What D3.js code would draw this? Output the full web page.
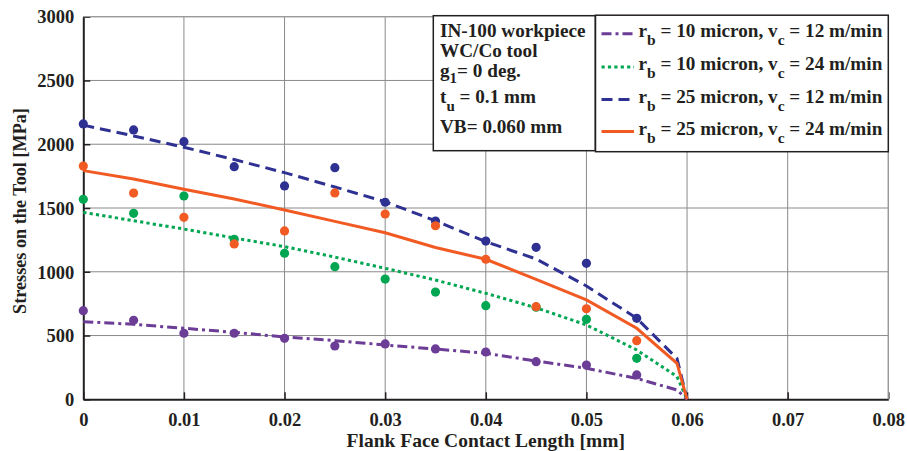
<!DOCTYPE html>
<html>
<head>
<meta charset="utf-8">
<script src="https://cdn.jsdelivr.net/npm/d3@7"></script>
<style>
  html, body { margin: 0; padding: 0; background: #fff; }
  svg { display: block; }
  text { font-family: "Liberation Serif", "Times New Roman", serif; font-weight: bold; fill: #231f20; }
</style>
</head>
<body>
<svg id="chart" width="907" height="451"></svg>
<script>
// Measured stresses at discrete contact positions (mm)
const pointX = [0, 0.005, 0.01, 0.015, 0.02, 0.025, 0.03, 0.035, 0.04, 0.045, 0.05, 0.055];
const pts_rb10_vc12 = [695, 620, 518, 518, 478, 418, 434, 395, 371, 295, 269, 191];
const pts_rb10_vc24 = [1568, 1458, 1594, 1255, 1145, 1040, 943, 841, 734, 722, 627, 321];
const pts_rb25_vc12 = [2159, 2112, 2020, 1824, 1673, 1816, 1545, 1398, 1241, 1192, 1066, 635];
const pts_rb25_vc24 = [1829, 1617, 1427, 1218, 1320, 1618, 1453, 1361, 1098, 726, 710, 460];

// Model curves along the flank face
const curveX = [0, 0.005, 0.01, 0.015, 0.02, 0.025, 0.03, 0.035, 0.04, 0.045, 0.05, 0.055, 0.059, 0.06];
const fit_rb10_vc12 = [609, 588, 557, 525, 489, 460, 426, 394, 361, 300, 243, 164, 73, 0];
const fit_rb10_vc24 = [1466, 1400, 1335, 1265, 1197, 1115, 1027, 935, 831, 718, 583, 387, 178, 0];
const fit_rb25_vc12 = [2150, 2065, 1976, 1880, 1777, 1665, 1549, 1400, 1236, 1100, 889, 635, 320, 0];
const fit_rb25_vc24 = [1793, 1727, 1647, 1571, 1484, 1395, 1306, 1190, 1098, 940, 779, 557, 282, 0];

// Axis ticks
const xTicks = [0, 0.01, 0.02, 0.03, 0.04, 0.05, 0.06, 0.07, 0.08];
const xTickLabels = ["0", "0.01", "0.02", "0.03", "0.04", "0.05", "0.06", "0.07", "0.08"];
const yTicks = [0, 500, 1000, 1500, 2000, 2500, 3000];

// Legend entries
const legendRb = ["10", "10", "25", "25"];
const legendVc = ["12", "24", "12", "24"];

const seriesColors = ["#6c3d97", "#00a651", "#2e3192", "#f15a22"];
const seriesDash = ["10,4,3,4", "3.2,3.2", "11,6", null];
const curves = [fit_rb10_vc12, fit_rb10_vc24, fit_rb25_vc12, fit_rb25_vc24];
const points = [pts_rb10_vc12, pts_rb10_vc24, pts_rb25_vc12, pts_rb25_vc24];

const svg = d3.select("#chart");
const plotLeft = 83.3, plotRight = 888.3, plotTop = 16.7, plotBottom = 399.3;
const boxFont = 19.2;

const x = d3.scaleLinear().domain([0, 0.08]).range([plotLeft, plotRight]);
const y = d3.scaleLinear().domain([0, 3000]).range([plotBottom, plotTop]);

// Grid
const grid = svg.append("g");
grid.selectAll("line.vx").data(xTicks.slice(1)).join("line")
  .attr("x1", d => x(d)).attr("x2", d => x(d))
  .attr("y1", plotTop).attr("y2", plotBottom)
  .attr("stroke", "#8a8a8a").attr("stroke-width", 1);
grid.selectAll("line.hy").data(yTicks.slice(1)).join("line")
  .attr("x1", plotLeft).attr("x2", plotRight)
  .attr("y1", d => y(d)).attr("y2", d => y(d))
  .attr("stroke", "#8a8a8a").attr("stroke-width", 1);

// Axes drawn with d3-axis, ticks pointing inward
const xAxis = svg.append("g").attr("transform", `translate(0,${plotBottom})`)
  .call(d3.axisBottom(x).tickValues(xTicks).tickSizeInner(-7).tickSizeOuter(0).tickPadding(9)
    .tickFormat((d, i) => xTickLabels[i]));
const yAxis = svg.append("g").attr("transform", `translate(${plotLeft},0)`)
  .call(d3.axisLeft(y).tickValues(yTicks).tickSizeInner(-7).tickSizeOuter(0).tickPadding(9)
    .tickFormat(d3.format("d")));
[xAxis, yAxis].forEach(a => {
  a.select(".domain").attr("stroke", "#231f20").attr("stroke-width", 2);
  a.selectAll(".tick line").attr("stroke", "#231f20").attr("stroke-width", 1.5);
  a.selectAll(".tick text")
    .attr("font-family", "Liberation Serif").attr("font-weight", "bold")
    .attr("font-size", 18.5).attr("fill", "#231f20");
});
xAxis.selectAll(".tick text").attr("dy", "0.95em");
yAxis.selectAll(".tick text").attr("dy", "0.34em");

// Top and right frame edges
svg.append("line").attr("x1", plotLeft).attr("x2", plotRight).attr("y1", plotTop).attr("y2", plotTop)
  .attr("stroke", "#9a9a9a").attr("stroke-width", 1.2);
svg.append("line").attr("x1", plotRight).attr("x2", plotRight).attr("y1", plotTop).attr("y2", plotBottom)
  .attr("stroke", "#9a9a9a").attr("stroke-width", 1.2);

// Model curves
const line = d3.line().x((d, i) => x(curveX[i])).y(d => y(d));
curves.forEach((c, k) => {
  svg.append("path").datum(c)
    .attr("d", line)
    .attr("fill", "none")
    .attr("stroke", seriesColors[k])
    .attr("stroke-width", 3)
    .attr("stroke-dasharray", seriesDash[k]);
});

// Measured points
points.forEach((p, k) => {
  svg.append("g").selectAll("circle").data(p).join("circle")
    .attr("cx", (d, i) => x(pointX[i]))
    .attr("cy", d => y(d))
    .attr("r", 4.6)
    .attr("fill", seriesColors[k]);
});

// Process conditions box
const info = svg.append("g");
info.append("rect").attr("x", 433.3).attr("y", 15.7).attr("width", 162).attr("height", 135)
  .attr("fill", "#fff").attr("stroke", "#231f20").attr("stroke-width", 1.5);
const infoText = (yy) => info.append("text").attr("x", 440).attr("y", yy).attr("font-size", boxFont);
infoText(36.5).text("IN-100 workpiece");
infoText(56.5).text("WC/Co tool");
const g1 = infoText(76.5);
g1.append("tspan").text("g");
g1.append("tspan").attr("dy", 6).attr("font-size", 15).text("1");
g1.append("tspan").attr("dy", -6).text("= 0 deg.");
const tu = infoText(103);
tu.append("tspan").text("t");
tu.append("tspan").attr("dy", 8).attr("font-size", 15).text("u");
tu.append("tspan").attr("dy", -8).text(" = 0.1 mm");
infoText(133).text("VB= 0.060 mm");

// Legend
const leg = svg.append("g");
leg.append("rect").attr("x", 595.5).attr("y", 15.2).attr("width", 292.8).attr("height", 136.5)
  .attr("fill", "#fff").attr("stroke", "#231f20").attr("stroke-width", 1.5);
const rowBase = [36.7, 70, 102.5, 134.5];
legendRb.forEach((rb, k) => {
  const by = rowBase[k];
  leg.append("line").attr("x1", 601.5).attr("x2", 634)
    .attr("y1", by - 3).attr("y2", by - 3)
    .attr("stroke", seriesColors[k]).attr("stroke-width", 3)
    .attr("stroke-dasharray", seriesDash[k]);
  const t = leg.append("text").attr("x", 638.5).attr("y", by).attr("font-size", boxFont);
  t.append("tspan").text("r");
  t.append("tspan").attr("dy", 8).attr("font-size", 15.5).text("b");
  t.append("tspan").attr("dy", -8).text(` = ${rb} micron, v`);
  t.append("tspan").attr("dy", 8).attr("font-size", 15.5).text("c");
  t.append("tspan").attr("dy", -8).text(` = ${legendVc[k]} m/min`);
});

// Axis titles
svg.append("text").attr("x", (plotLeft + plotRight) / 2).attr("y", 446.5)
  .attr("text-anchor", "middle").attr("font-size", 19.5)
  .text("Flank Face Contact Length [mm]");
svg.append("text")
  .attr("transform", `translate(26,211) rotate(-90)`)
  .attr("text-anchor", "middle").attr("font-size", 18.2)
  .text("Stresses on the Tool [MPa]");
</script>
</body>
</html>
